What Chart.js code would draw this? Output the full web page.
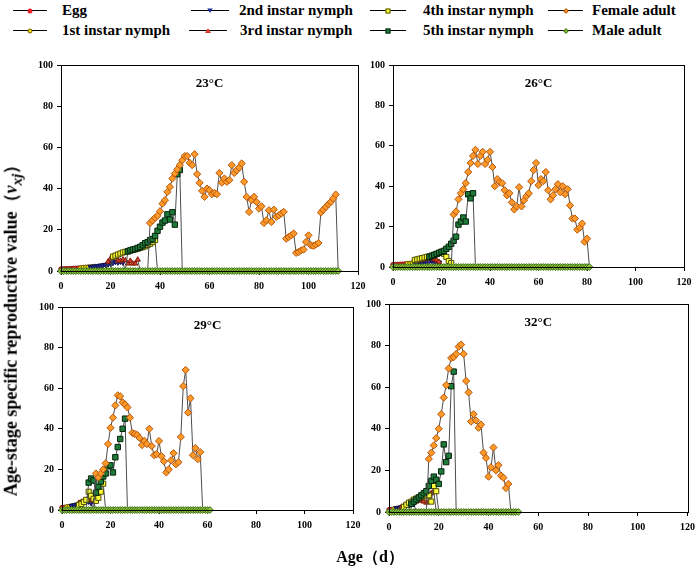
<!DOCTYPE html>
<html>
<head>
<meta charset="utf-8">
<script src="https://cdn.jsdelivr.net/npm/chart.js@4.4.0/dist/chart.umd.min.js"></script>
<style>
  body { margin: 0; width: 700px; height: 578px; background: #fff; position: relative; overflow: hidden;
         font-family: 'Liberation Serif', 'Times New Roman', serif; }
  canvas { position: absolute; left: 0; top: 0; pointer-events: none; }
  .lg { position: absolute; font-weight: bold; font-size: 15px; line-height: 18px; white-space: nowrap; color: #000; }
  .ln { position: absolute; height: 1px; background: #000; }
  .mk { position: absolute; left: 50%; top: 50%; box-sizing: border-box; }
  .egg { width: 5px; height: 5px; border-radius: 50%; background: #e8242a; transform: translate(-50%, -50%); }
  .n1 { width: 5px; height: 5px; border-radius: 50%; background: #f5e400; border: 1px solid #6b5a00; transform: translate(-50%, -50%); }
  .n2 { width: 6px; height: 5px; background: #1f2a9a; clip-path: polygon(0 0, 100% 0, 50% 100%); transform: translate(-50%, -50%); }
  .n3 { width: 6px; height: 5px; background: #d9402a; clip-path: polygon(50% 0, 100% 100%, 0 100%); transform: translate(-50%, -50%); }
  .n4 { width: 5px; height: 5px; background: #ffff3a; border: 1px solid #4a4a00; transform: translate(-50%, -50%); }
  .n5 { width: 5px; height: 5px; background: #1e7b3a; border: 1px solid #05230c; transform: translate(-50%, -50%); }
  .fem { width: 4px; height: 4px; background: #ff9a2a; border: 1px solid #b4560a; transform: translate(-50%, -50%) rotate(45deg); }
  .mal { width: 4px; height: 4px; background: #8cc63f; border: 1px solid #3f6d16; transform: translate(-50%, -50%) rotate(45deg); }
  .ytitle { position: absolute; left: 12px; top: 326px; transform: translate(-50%, -50%) rotate(-90deg);
            font-weight: bold; font-size: 18px; white-space: nowrap; }
  .xtitle { position: absolute; left: 370px; top: 557px; transform: translate(-50%, -50%);
            font-weight: bold; font-size: 16px; white-space: nowrap; }
</style>
</head>
<body>
<div class="ln" style="left:13px;top:10px;width:34px"><i class="mk egg"></i></div>
<div class="lg" style="left:62px;top:1px">Egg</div>
<div class="ln" style="left:191px;top:10px;width:38px"><i class="mk n2"></i></div>
<div class="lg" style="left:239px;top:1px">2nd instar nymph</div>
<div class="ln" style="left:370px;top:10px;width:36px"><i class="mk n4"></i></div>
<div class="lg" style="left:423px;top:1px">4th instar nymph</div>
<div class="ln" style="left:548px;top:10px;width:35px"><i class="mk fem"></i></div>
<div class="lg" style="left:592px;top:1px">Female adult</div>
<div class="ln" style="left:13px;top:30px;width:34px"><i class="mk n1"></i></div>
<div class="lg" style="left:62px;top:21px">1st instar nymph</div>
<div class="ln" style="left:189px;top:30px;width:38px"><i class="mk n3"></i></div>
<div class="lg" style="left:240px;top:21px">3rd instar nymph</div>
<div class="ln" style="left:370px;top:30px;width:36px"><i class="mk n5"></i></div>
<div class="lg" style="left:423px;top:21px">5th instar nymph</div>
<div class="ln" style="left:548px;top:30px;width:35px"><i class="mk mal"></i></div>
<div class="lg" style="left:592px;top:21px">Male adult</div>

<canvas id="p23" width="700" height="578"></canvas>
<canvas id="p26" width="700" height="578"></canvas>
<canvas id="p29" width="700" height="578"></canvas>
<canvas id="p32" width="700" height="578"></canvas>

<div class="ytitle">Age-stage specific reproductive value（<i>v</i><sub><i>xj</i></sub>）</div>
<div class="xtitle">Age（d）</div>

<script>
// ticks shared by the four panels
const xTicks = [0, 20, 40, 60, 80, 100, 120];
const yTicks = [0, 20, 40, 60, 80, 100];

// 23°C : one value per day, starting at the age given in start23 (same stage order)
const egg23 = [1.0, 1.05, 1.1, 1.15, 1.2, 1.3, 1.35, 1.4, 1.5, 1.6, 1.7, 1.8];
const n1_23 = [1.6, 1.7, 1.8, 1.9, 2.0, 2.1, 2.2, 2.3];
const n2_23 = [2.0, 2.1, 2.2, 2.4, 2.6, 2.8, 3.0, 3.3, 3.6, 4.0, 4.5, 4.2, 4.6, 4.2];
const n3_23 = [4.5, 6.0, 6.5, 6.8, 5.0, 4.9, 5.5, 5.2, 3.6, 4.9, 3.6, 3.6, 5.5];
const n4_23 = [7.0, 7.5, 8.0, 8.5, 9.0, 9.3, 9.6, 9.9, 10.2, 10.5, 10.8, 11.2, 11.6, 12.0, 12.6, 13.2, 14.0, 15.0];
const n5_23 = [9.5, 10.0, 10.4, 10.7, 11.2, 11.7, 12.5, 13.5, 14.0, 15.0, 15.5, 17.0, 19.5, 21.5, 23.5, 24.5,
               27.5, 25.0, 28.5, 22.5, 47.0, 49.0];
const female23 = [23.3, 24.6, 25.8, 26.9, 29, 32.7, 34.4, 38.4, 40.8, 44.9, 47.3, 49.3, 51.4, 53.8, 55.8,
                  55.8, 52.5, 51.4, 56.7, 47, 42.8, 38.9, 36, 40, 39.2, 37.3, 37.9, 37.3, 47.6,
                  42.9, 44.9, 43.3, 44.1, 51.4, 47.6, 48.9, 50.2, 52.2, 43.3, 36, 28.7, 34.4, 36, 33.5, 30.3,
                  31.4, 23.3, 24.6, 29.5, 23.8, 29.8, 26.3, 27, 27.9, 28.7,
                  15.7, 16.5, 17.3, 18.2, 8.8, 9.2, 10, 10.4, 14.1, 17.3, 12.5, 12.2, 12.8, 13.6,
                  28.4, 29.8, 31.1, 32.4, 33.5, 35.2, 37.1];
const start23 = [0, 8, 12, 19, 21, 27, 36];
const end23 = 112;

// 26°C
const egg26 = [1.2, 1.25, 1.3, 1.35, 1.4, 1.5, 1.6, 1.7];
const n1_26 = [1.7, 1.8, 2.0, 2.2, 2.4, 2.6];
const n2_26 = [1.8, 2.0, 2.2, 2.3, 2.5, 2.6, 2.8, 3.0, 2.8, 2.5, 2.2];
const n3_26 = [3.0, 3.3, 3.6, 3.9, 4.2, 4.5, 4.2, 3.8, 3.3, 2.5];
const n4_26 = [3.5, 3.8, 4.1, 4.4, 4.7, 5.0, 5.3, 5.6, 6.0, 6.4, 7.0, 7.5, 6.5, 5.0, 3.0, 2.0];
const n5_26 = [5.0, 5.5, 6.0, 6.5, 7.0, 7.5, 8.0, 9.0, 10.0, 11.5, 13.0, 15.0, 21.0, 22.5, 24.5, 22.5, 36.0, 34.0, 36.5];
const female26 = [26, 27.5, 33.5, 36.5, 38.5, 41.5, 47, 51.5, 55, 58,
                  51, 55, 57, 51, 53, 57, 49.5, 40, 43.5, 42,
                  41.5, 38, 35.5, 36.5, 32, 28.5, 30, 39.5, 30, 33,
                  35, 36.5, 42.5, 48, 51.5, 40.5, 43.5, 42.5, 47, 38,
                  33.5, 35.5, 38.5, 41, 37, 40, 36, 38.5, 30.5, 24,
                  24, 18.5, 19.5, 21.5, 12.5, 14];
const start26 = [0, 6, 9, 10, 9, 15, 25];
const end26 = 81;

// 29°C
const egg29 = [1.2, 1.3, 1.4, 1.5, 1.7];
const n1_29 = [1.6, 1.8, 2.0, 2.2, 2.4];
const n2_29 = [2.0, 2.3, 2.6, 3.0, 3.4, 3.8, 4.0, 4.2, 3.5];
const n3_29 = [3.5, 4.0, 4.5, 5.0, 5.5, 5.0, 4.5];
const n4_29 = [2.5, 3.0, 4.0, 5.0, 9.0, 7.0, 5.5, 4.5, 6.0, 9.0, 13.0];
const n5_29 = [13.5, 15.5, 14.5, 8.5, 11.5, 14.0, 16.5, 18.0, 21.5, 22.0, 18.5, 26.0, 31.0, 35.0, 40.0, 45.0];
const female29 = [18, 16, 18, 20, 23, 32.5, 40.5, 45.5, 51.5, 56.5,
                  56, 53, 52, 50.5, 45.5, 38, 37.5, 37, 35.5, 32,
                  34, 32.5, 40, 31.5, 27, 27.5, 34, 26.5, 24, 18.5,
                  20, 24.5, 28, 22.5, 23.5, 36, 61, 69, 48, 55,
                  27, 30.5, 25, 28.5];
const start29 = [0, 2, 4, 7, 7, 11, 14];
const end29 = 61;

// 32°C
const egg32 = [1.1, 1.2, 1.3, 1.4];
const n1_32 = [1.5, 1.7, 1.9, 2.1, 2.3];
const n2_32 = [1.8, 2.0, 2.3, 2.6, 3.0, 3.3, 3.6, 3.9];
const n3_32 = [2.5, 3.0, 3.5, 4.0, 4.5, 5.0, 5.0, 5.5, 5.5, 5.0, 4.5, 5.0, 9.0, 10.0];
const n4_32 = [2.5, 3.5, 4.5, 5.0, 6.0, 6.5, 7.0, 7.5, 7.5, 8.0, 8.0, 5.0, 12.5, 10.0];
const n5_32 = [4, 5, 6, 7, 8, 9, 10, 12.5, 15, 17, 15.5, 13.5, 19.5, 32.5, 24, 27, 60.5, 67.5];
const female32 = [25.5, 28.5, 32, 35.5, 40, 47, 55, 61, 69, 74,
                  74.5, 76, 79.5, 80.5, 76, 63, 57.5, 43.5, 47, 44,
                  40.5, 42, 28.5, 26, 17, 21.5, 31, 20, 22.5, 17.5,
                  16.5, 11.5, 13.5];
const start32 = [0, 2, 3, 5, 6, 9, 16];
const end32 = 52;

// marker look per stage (egg ... male)
const stageStyle = [
  { label: 'Egg', shape: 'circle', r: 2.2, fill: '#e8242a', edge: '#8a1010' },
  { label: '1st instar nymph', shape: 'circle', r: 2.2, fill: '#f5e400', edge: '#6b5a00' },
  { label: '2nd instar nymph', shape: 'triangle', rot: 180, r: 3, fill: '#1f2a9a', edge: '#0b1050' },
  { label: '3rd instar nymph', shape: 'triangle', r: 3, fill: '#d9402a', edge: '#7a1a0a' },
  { label: '4th instar nymph', shape: 'rect', r: 3.6, fill: '#ffff3a', edge: '#4a4a00' },
  { label: '5th instar nymph', shape: 'rect', r: 3.8, fill: '#1e7b3a', edge: '#05230c' },
  { label: 'Female adult', shape: 'rectRot', r: 3.6, fill: '#ff9a2a', edge: '#b4560a' },
  { label: 'Male adult', shape: 'rectRot', r: 3.4, fill: '#8cc63f', edge: '#3f6d16' }
];

// plot rectangles on the page
const boxes = {
  p23: { l: 61, t: 65, r: 358, b: 271 },
  p26: { l: 393, t: 65, r: 684, b: 267 },
  p29: { l: 62, t: 307, r: 353, b: 510 },
  p32: { l: 389, t: 304, r: 688, b: 512 }
};

const tickFont = { family: "'Liberation Serif', 'Times New Roman', serif", size: 10, weight: 'bold' };

// frame round the plot and the temperature inside it
const panelBox = {
  id: 'panelBox',
  afterDraw(chart, args, opts) {
    const a = chart.chartArea, c = chart.ctx;
    c.save();
    c.strokeStyle = '#000';
    c.lineWidth = 1;
    c.strokeRect(Math.round(a.left) + 0.5, Math.round(a.top) + 0.5,
                 Math.round(a.right - a.left), Math.round(a.bottom - a.top));
    c.fillStyle = '#000';
    c.font = "bold 13px 'Liberation Serif', 'Times New Roman', serif";
    c.textAlign = 'center';
    c.textBaseline = 'middle';
    c.fillText(opts.text, (a.left + a.right) / 2, a.top + 19);
    c.restore();
  }
};

function points(vals, from, last) {
  const out = [];
  for (let age = 0; age <= last; age++) {
    const i = age - from;
    out.push({ x: age, y: i >= 0 && i < vals.length ? vals[i] : 0 });
  }
  return out;
}

function makeDataset(k, data) {
  const s = stageStyle[k];
  return {
    label: s.label,
    data: data,
    order: 7 - k,
    borderColor: '#4d4d4d',
    borderWidth: 1,
    tension: 0,
    clip: false,
    pointStyle: s.shape,
    pointRotation: s.rot || 0,
    pointRadius: ctx => (k < 7 && ctx.raw && ctx.raw.y === 0) ? 0 : s.r,
    pointBackgroundColor: s.fill,
    pointBorderColor: s.edge,
    pointBorderWidth: 1
  };
}

function makePanel(id, title, stages, starts, lastAge) {
  const box = boxes[id];
  const yW = 34, xH = 24;
  const datasets = stages.map((vals, k) => makeDataset(k, points(vals, starts[k], lastAge)));
  datasets.push(makeDataset(7, points([], 0, lastAge)));

  new Chart(document.getElementById(id), {
    type: 'line',
    data: { datasets: datasets },
    options: {
      responsive: false,
      animation: false,
      events: [],
      layout: { padding: { left: box.l - yW, top: box.t, right: 700 - box.r, bottom: 578 - box.b - xH } },
      plugins: {
        legend: { display: false },
        tooltip: { enabled: false },
        panelBox: { text: title }
      },
      scales: {
        x: {
          type: 'linear', min: 0, max: 120,
          afterFit: s => { s.height = xH; },
          afterBuildTicks: s => { s.ticks = xTicks.map(v => ({ value: v })); },
          ticks: { font: tickFont, color: '#000', padding: 5, maxRotation: 0, autoSkip: false },
          grid: { drawOnChartArea: false, drawTicks: true, tickLength: 4, color: '#000' },
          border: { color: '#000' }
        },
        y: {
          type: 'linear', min: 0, max: 100,
          afterFit: s => { s.width = yW; },
          afterBuildTicks: s => { s.ticks = yTicks.map(v => ({ value: v })); },
          ticks: { font: tickFont, color: '#000', padding: 4 },
          grid: { drawOnChartArea: false, drawTicks: true, tickLength: 4, color: '#000' },
          border: { color: '#000' }
        }
      }
    },
    plugins: [panelBox]
  });
}

makePanel('p23', '23°C', [egg23, n1_23, n2_23, n3_23, n4_23, n5_23, female23], start23, end23);
makePanel('p26', '26°C', [egg26, n1_26, n2_26, n3_26, n4_26, n5_26, female26], start26, end26);
makePanel('p29', '29°C', [egg29, n1_29, n2_29, n3_29, n4_29, n5_29, female29], start29, end29);
makePanel('p32', '32°C', [egg32, n1_32, n2_32, n3_32, n4_32, n5_32, female32], start32, end32);
</script>
</body>
</html>
